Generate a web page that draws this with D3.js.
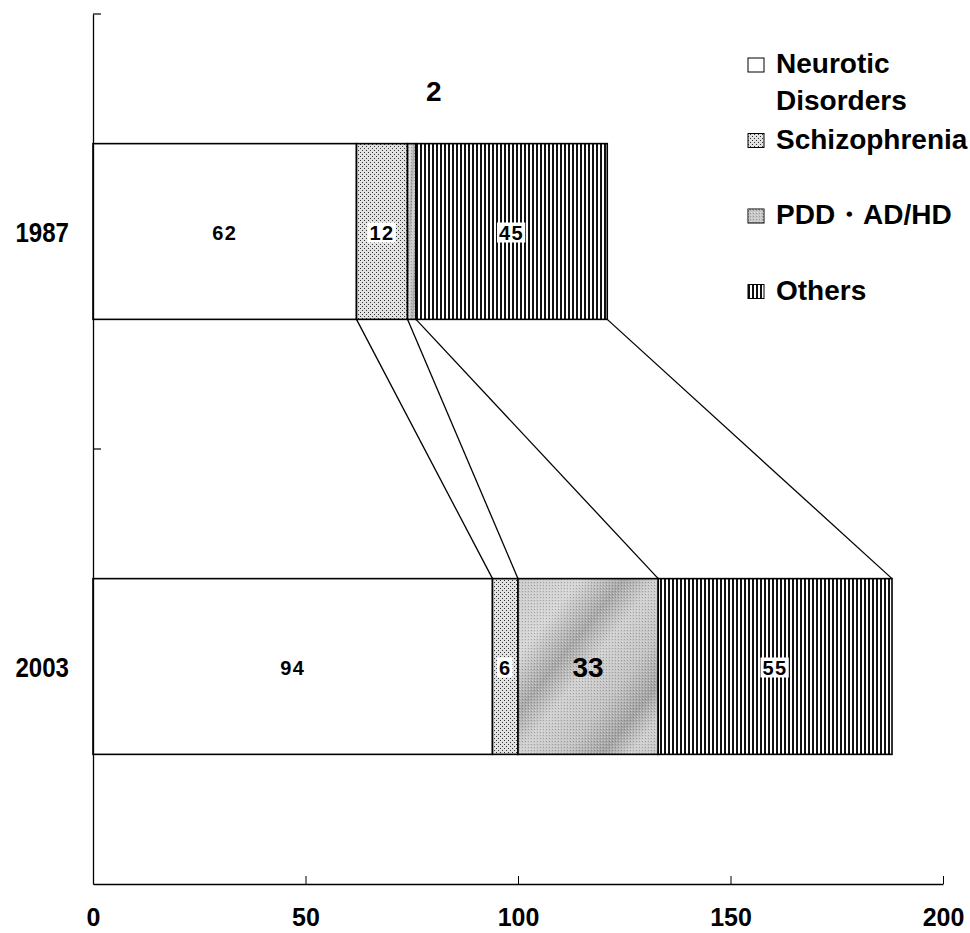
<!DOCTYPE html>
<html>
<head>
<meta charset="utf-8">
<script src="https://cdn.jsdelivr.net/npm/d3@7"></script>
<style>
  html, body { margin: 0; padding: 0; background: #fff; }
  svg { display: block; }
  text { font-family: "Liberation Sans", Arial, sans-serif; font-weight: bold; fill: #000; }
</style>
</head>
<body>
<script>
// ---- data ----
const years = ["1987", "2003"];
const categories = ["Neurotic Disorders", "Schizophrenia", "PDD・AD/HD", "Others"];
const values1987 = [62, 12, 2, 45];
const values2003 = [94, 6, 33, 55];
const xTickValues = [0, 50, 100, 150, 200];
const legendLabels = [["Neurotic", "Disorders"], ["Schizophrenia"], ["PDD・AD/HD"], ["Others"]];

const W = 970, H = 933;
const svg = d3.select("body").append("svg").attr("width", W).attr("height", H);
svg.append("rect").attr("width", W).attr("height", H).attr("fill", "#fff");

// ---- patterns ----
const defs = svg.append("defs");
const pDots = defs.append("pattern").attr("id", "dots").attr("patternUnits", "userSpaceOnUse")
  .attr("width", 4).attr("height", 4);
pDots.append("rect").attr("width", 4).attr("height", 4).attr("fill", "#e2e2e2");
pDots.append("rect").attr("x", 0).attr("y", 0).attr("width", 1).attr("height", 1).attr("fill", "#333");
pDots.append("rect").attr("x", 2).attr("y", 2).attr("width", 1).attr("height", 1).attr("fill", "#333");

const pStripes = defs.append("pattern").attr("id", "stripes").attr("patternUnits", "userSpaceOnUse")
  .attr("width", 4).attr("height", 4);
pStripes.append("rect").attr("width", 4).attr("height", 4).attr("fill", "#fff");
pStripes.append("rect").attr("x", 0).attr("width", 2).attr("height", 4).attr("fill", "#111");

const grad = defs.append("linearGradient").attr("id", "pddGrad")
  .attr("x1", 0).attr("y1", 0).attr("x2", 1).attr("y2", 1);
[[0, "#c9c9c9"], [0.22, "#d6d6d6"], [0.38, "#a9a9a9"], [0.5, "#d0d0d0"], [0.66, "#c4c4c4"], [0.8, "#a4a4a4"], [0.9, "#cfcfcf"], [1, "#c6c6c6"]]
  .forEach(([o, c]) => grad.append("stop").attr("offset", o).attr("stop-color", c));

const pStip = defs.append("pattern").attr("id", "stipple").attr("patternUnits", "userSpaceOnUse")
  .attr("width", 3).attr("height", 3);
pStip.append("rect").attr("x", 0).attr("y", 0).attr("width", 1).attr("height", 1).attr("fill", "rgba(0,0,0,0.22)");
pStip.append("rect").attr("x", 1).attr("y", 2).attr("width", 1).attr("height", 1).attr("fill", "rgba(255,255,255,0.35)");

const fills = ["#fff", "url(#dots)", "url(#pddGrad)", "url(#stripes)"];

// ---- scales ----
const x = d3.scaleLinear().domain([0, 200]).range([93, 943]);
const y = d3.scaleBand().domain(years).range([14, 884]).paddingInner(0.596).paddingOuter(0.298);

// ---- stacked data ----
const rows = years.map((yr, i) => {
  const vals = i === 0 ? values1987 : values2003;
  const r = { year: yr };
  categories.forEach((c, j) => r[c] = vals[j]);
  return r;
});
const series = d3.stack().keys(categories)(rows);

// ---- connector lines between bars ----
const g = svg.append("g");
series.forEach(s => {
  g.append("line")
    .attr("x1", x(s[0][1])).attr("y1", y(years[0]) + y.bandwidth())
    .attr("x2", x(s[1][1])).attr("y2", y(years[1]))
    .attr("stroke", "#000").attr("stroke-width", 1.3);
});

// ---- bars ----
series.forEach((s, si) => {
  const sg = g.append("g");
  sg.selectAll("rect.seg").data(s).join("rect").attr("class", "seg")
    .attr("x", d => x(d[0])).attr("y", d => y(d.data.year))
    .attr("width", d => x(d[1]) - x(d[0])).attr("height", y.bandwidth())
    .attr("fill", fills[si]);
  if (si === 2) {
    sg.selectAll("rect.stip").data(s).join("rect").attr("class", "stip")
      .attr("x", d => x(d[0])).attr("y", d => y(d.data.year))
      .attr("width", d => x(d[1]) - x(d[0])).attr("height", y.bandwidth())
      .attr("fill", "url(#stipple)");
  }
  sg.selectAll("rect.out").data(s).join("rect").attr("class", "out")
    .attr("x", d => x(d[0])).attr("y", d => y(d.data.year))
    .attr("width", d => x(d[1]) - x(d[0])).attr("height", y.bandwidth())
    .attr("fill", "none").attr("stroke", "#000").attr("stroke-width", 1.6);
});

// ---- value labels ----
const lg = svg.append("g");
series.forEach((s, si) => {
  s.forEach(d => {
    const v = d[1] - d[0];
    const cx = (x(d[0]) + x(d[1])) / 2;
    const big = si === 2;
    const fs = big ? 28 : 20;
    const segW = x(d[1]) - x(d[0]);
    let tx = cx, ty = y(d.data.year) + y.bandwidth() / 2 + (big ? 10 : 8);
    if (segW < 14) { // too narrow: label above the bar
      tx = cx + 22;
      ty = y(d.data.year) - 43;
    }
    const t = lg.append("text").attr("x", tx).attr("y", ty)
      .attr("text-anchor", "middle").attr("font-size", fs)
      .attr("letter-spacing", big ? 0 : 1.5)
      .text(v);
    if ((si === 1 || si === 3) && segW >= 14) {
      const bb = t.node().getBBox();
      lg.insert("rect", () => t.node())
        .attr("x", bb.x - 2).attr("y", bb.y + 1).attr("width", bb.width + 3).attr("height", bb.height - 2)
        .attr("fill", "#fff");
    }
  });
});

// ---- axes ----
const xAxis = d3.axisBottom(x).tickValues(xTickValues).tickSizeInner(-8).tickSizeOuter(0).tickPadding(24);
const xa = svg.append("g").attr("transform", `translate(0,${y.range()[1]})`).call(xAxis);
xa.select(".domain").attr("stroke", "#000").attr("stroke-width", 1.6);
xa.selectAll(".tick line").attr("stroke", "#000");
xa.selectAll(".tick text").attr("font-size", 25).attr("font-family", "Liberation Sans, Arial, sans-serif")
  .attr("font-weight", "bold").attr("fill", "#000");

const yAxis = d3.axisLeft(y).tickSizeInner(0).tickSizeOuter(0).tickPadding(26);
const ya = svg.append("g").attr("transform", `translate(${x(0)},0)`).call(yAxis);
ya.select(".domain").attr("stroke", "#000").attr("stroke-width", 1.3);
ya.selectAll(".tick text").attr("font-size", 28).attr("font-family", "Liberation Sans, Arial, sans-serif")
  .attr("font-weight", "bold").attr("fill", "#000")
  .attr("dy", "0.36em")
  .attr("transform", "scale(0.86,1)")
  .attr("x", -24 / 0.86);
// category boundary ticks (pointing inward)
const step = y.step();
const bounds = [y.range()[0], y.range()[0] + step];
ya.selectAll("line.bt").data(bounds).join("line").attr("class", "bt")
  .attr("x1", 0).attr("x2", 8).attr("y1", d => d).attr("y2", d => d)
  .attr("stroke", "#000").attr("stroke-width", 1.2);

// ---- legend ----
const leg = svg.append("g");
const legStep = 75.5;
legendLabels.forEach((lines, i) => {
  const base = 73 + i * legStep;
  leg.append("rect").attr("x", 748).attr("y", base - 15).attr("width", 16).attr("height", 14)
    .attr("fill", fills[i] === "url(#pddGrad)" ? "#c8c8c8" : fills[i]).attr("stroke", "#000").attr("stroke-width", 1);
  if (i === 2) {
    leg.append("rect").attr("x", 748).attr("y", base - 15).attr("width", 16).attr("height", 14)
      .attr("fill", "url(#stipple)");
  }
  lines.forEach((ln, k) => {
    leg.append("text").attr("x", 776).attr("y", base + k * 37).attr("font-size", 28).text(ln);
  });
});
</script>
</body>
</html>
